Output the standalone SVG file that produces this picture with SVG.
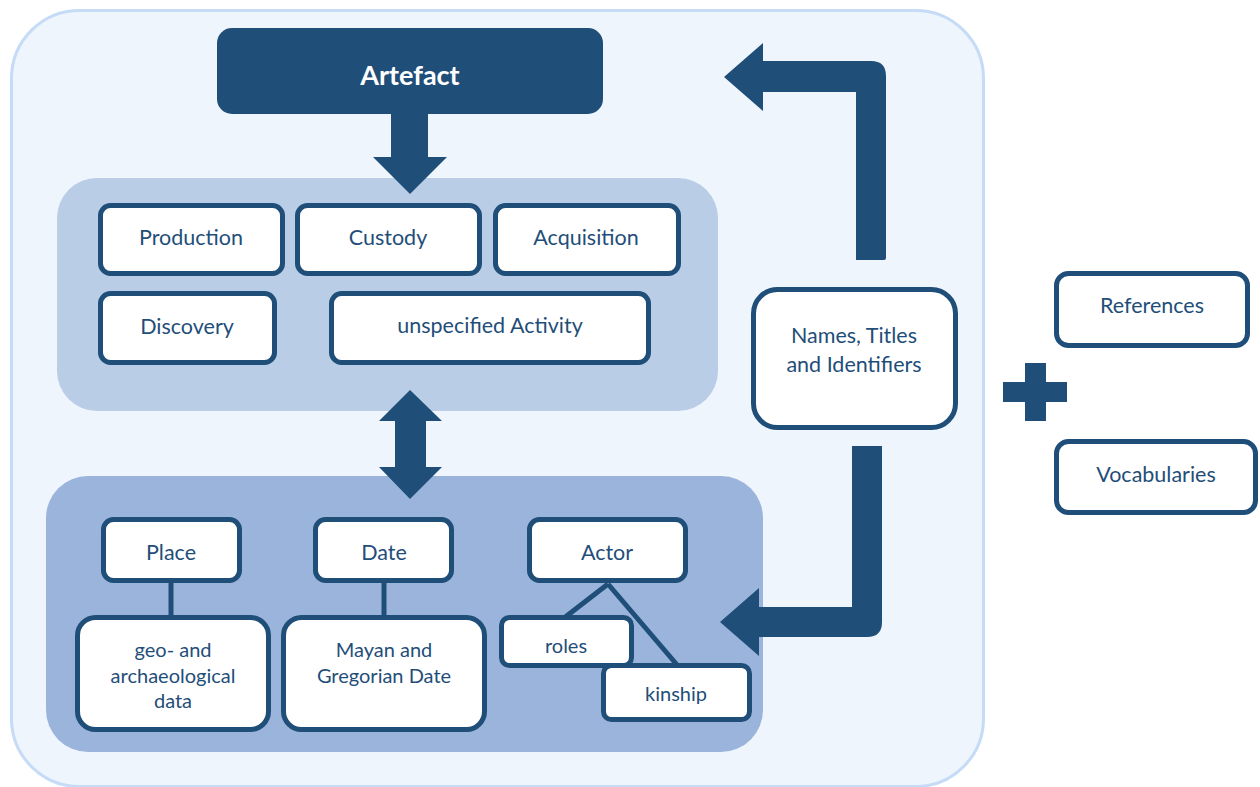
<svg xmlns="http://www.w3.org/2000/svg" width="1260" height="787" viewBox="0 0 1260 787">
<style>
.box{fill:#ffffff;stroke:#1f4e79;stroke-width:5}
.t{font-family:Lato,"Liberation Sans",sans-serif;font-size:21.5px;fill:#1f4e79;text-anchor:middle}
.s{font-size:20px}
.dark{fill:#1f4e79}
.ln{stroke:#1f4e79;stroke-width:5;fill:none}
</style>
<rect width="1260" height="787" fill="#ffffff"/>
<rect id="container" x="11.5" y="10.5" width="972" height="776" rx="68" fill="#eff5fd" stroke="#c5dbf6" stroke-width="3"/>
<rect id="activities-panel" x="57" y="178" width="661" height="233" rx="40" fill="#b9cde6"/>
<rect id="entities-panel" x="46" y="476" width="717" height="276" rx="42" fill="#9ab4db"/>

<g id="connectors">
  <path class="dark" d="M391,112 L428,112 L428,157 L447,157 L410,194 L373,157 L391,157 Z"/>
  <path class="dark" d="M410,390 L442,421 L426,421 L426,467 L442,467 L410,499 L379,467 L395,467 L395,421 L379,421 Z"/>
  <path class="dark" d="M856,260 L856,92 L763,92 L763,111 L724,77 L763,43 L763,61 L871,61 Q886,61 886,76 L886,258 Q886,260 884,260 Z"/>
  <path class="dark" d="M852,446 L882,446 L882,622 Q882,637 867,637 L759,637 L759,656 L720,622 L759,588 L759,607 L852,607 Z"/>
  <line class="ln" x1="171" y1="582" x2="171" y2="618" stroke-width="6"/>
  <line class="ln" x1="384" y1="582" x2="384" y2="618" stroke-width="6"/>
  <line class="ln" x1="608" y1="584" x2="564" y2="618"/>
  <line class="ln" x1="608" y1="584" x2="678" y2="666"/>
</g>

<g id="plus">
  <rect class="dark" x="1025" y="363" width="21" height="58"/>
  <rect class="dark" x="1003" y="382" width="64" height="20"/>
</g>

<g id="artefact">
  <rect x="217" y="28" width="386" height="86" rx="15" fill="#1f4e79"/>
  <text x="410" y="85" font-family="Lato,'Liberation Sans',sans-serif" font-size="27" font-weight="bold" fill="#ffffff" text-anchor="middle">Artefact</text>
</g>

<g id="production"><rect class="box" x="100.5" y="205.5" width="182" height="68" rx="10"/><text class="t" x="191" y="245">Production</text></g>
<g id="custody"><rect class="box" x="297.5" y="205.5" width="182" height="68" rx="10"/><text class="t" x="388" y="245">Custody</text></g>
<g id="acquisition"><rect class="box" x="495.5" y="205.5" width="183" height="68" rx="10"/><text class="t" x="586" y="245">Acquisition</text></g>
<g id="discovery"><rect class="box" x="100.5" y="293.5" width="174" height="69" rx="10"/><text class="t" x="187" y="334">Discovery</text></g>
<g id="unspecified"><rect class="box" x="331.5" y="293.5" width="317" height="69" rx="10"/><text class="t" x="490" y="333">unspecified Activity</text></g>

<g id="names"><rect class="box" x="753.5" y="289.5" width="202" height="138" rx="24"/><text class="t" x="854" y="343">Names, Titles</text><text class="t" x="854" y="372">and Identifiers</text></g>

<g id="references"><rect class="box" x="1056.5" y="273.5" width="191" height="72" rx="12"/><text class="t" x="1152" y="313">References</text></g>
<g id="vocabularies"><rect class="box" x="1056.5" y="441.5" width="199" height="71" rx="12"/><text class="t" x="1156" y="482">Vocabularies</text></g>

<g id="place"><rect class="box" x="103.5" y="519.5" width="136" height="61" rx="10"/><text class="t" x="171" y="560">Place</text></g>
<g id="date"><rect class="box" x="315.5" y="519.5" width="136" height="61" rx="10"/><text class="t" x="384" y="560">Date</text></g>
<g id="actor"><rect class="box" x="529.5" y="519.5" width="156" height="61" rx="10"/><text class="t" x="607" y="560">Actor</text></g>

<g id="geo"><rect class="box" x="77.5" y="617.5" width="191" height="112" rx="18"/><text class="t s" x="173" y="657">geo- and</text><text class="t s" x="173" y="683">archaeological</text><text class="t s" x="173" y="708">data</text></g>
<g id="mayan"><rect class="box" x="283.5" y="617.5" width="201" height="112" rx="18"/><text class="t s" x="384" y="657">Mayan and</text><text class="t s" x="384" y="683">Gregorian Date</text></g>

<g id="roles"><rect class="box" x="501.5" y="617.5" width="130" height="48" rx="8"/><text class="t s" x="566" y="653">roles</text></g>
<g id="kinship"><rect class="box" x="603.5" y="665.5" width="146" height="54" rx="8"/><text class="t s" x="676" y="701">kinship</text></g>
</svg>
